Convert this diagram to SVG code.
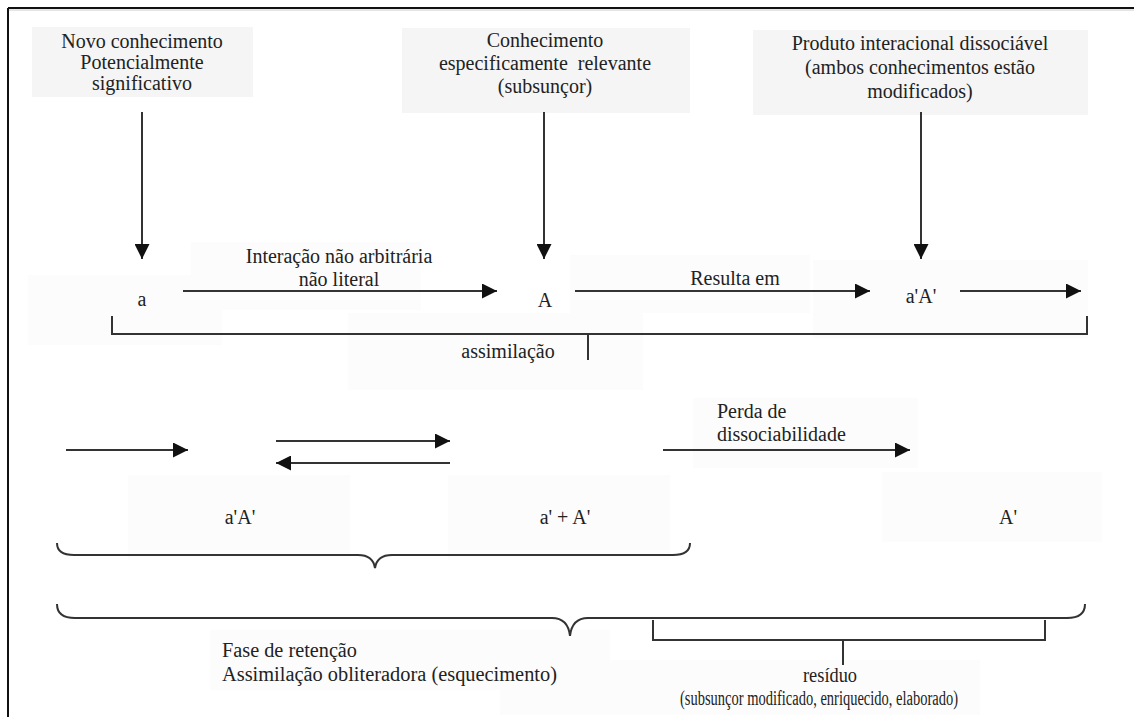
<svg xmlns="http://www.w3.org/2000/svg" width="1134" height="717" viewBox="0 0 1134 717">
<defs>
<marker id="ahv" viewBox="0 0 16 16" refX="16" refY="8" markerWidth="17" markerHeight="15" markerUnits="userSpaceOnUse" orient="auto">
<path d="M0,0 L16,8 L0,16 Z" fill="#111"/>
</marker>
</defs>
<style>
.t{font-family:"Liberation Serif","Times New Roman",serif;font-size:20px;fill:#222;}
.m{text-anchor:middle;}
.bg{fill:#f5f5f5;}
.bg2{fill:#fcfcfc;}
.ln{stroke:#333;stroke-width:2;fill:none;}
.ar{stroke:#333;stroke-width:2;fill:none;marker-end:url(#ahv);}
</style>
<rect width="1134" height="717" fill="#fff"/>
<g id="frame">
<line x1="8" y1="8" x2="1134" y2="8" stroke="#111" stroke-width="2"/>
<line x1="8" y1="8" x2="8" y2="717" stroke="#111" stroke-width="2"/>
<line x1="9" y1="10" x2="1134" y2="10" stroke="#ccc" stroke-width="1"/>
</g>
<g id="backgrounds">
<rect class="bg2" x="28" y="275" width="194" height="70"/>
<rect class="bg2" x="191" y="242" width="230" height="68"/>
<rect class="bg2" x="348" y="313" width="295" height="77"/>
<rect class="bg2" x="570" y="255" width="240" height="58"/>
<rect class="bg2" x="813" y="260" width="275" height="78"/>
<rect class="bg2" x="128" y="475" width="222" height="85"/>
<rect class="bg2" x="448" y="475" width="222" height="85"/>
<rect class="bg2" x="693" y="398" width="225" height="70"/>
<rect class="bg2" x="882" y="472" width="220" height="70"/>
<rect class="bg2" x="210" y="630" width="400" height="60"/>
<rect class="bg2" x="500" y="660" width="480" height="55"/>
</g>
<g id="n1">
<rect class="bg" x="32" y="27" width="221" height="70"/>
<text class="t m" x="142" y="48">Novo conhecimento</text>
<text class="t m" x="142" y="69">Potencialmente</text>
<text class="t m" x="142" y="90">significativo</text>
</g>
<g id="n2">
<rect class="bg" x="402" y="28" width="288" height="85"/>
<text class="t m" x="545" y="47">Conhecimento</text>
<text class="t m" x="545" y="70" xml:space="preserve">especificamente  relevante</text>
<text class="t m" x="545" y="93">(subsunçor)</text>
</g>
<g id="n3">
<rect class="bg" x="753" y="30" width="335" height="85"/>
<text class="t m" x="920" y="50">Produto interacional dissociável</text>
<text class="t m" x="920" y="74">(ambos conhecimentos estão</text>
<text class="t m" x="920" y="98">modificados)</text>
</g>
<g id="n-a"><text class="t m" x="142" y="306">a</text></g>
<g id="n-A"><text class="t m" x="545" y="307">A</text></g>
<g id="n-aA"><text class="t m" x="921" y="303">a'A'</text></g>
<g id="n-aA2"><text class="t m" x="240" y="524">a'A'</text></g>
<g id="n-apA"><text class="t m" x="565" y="524">a' + A'</text></g>
<g id="n-Ap"><text class="t m" x="1008" y="524">A'</text></g>
<g id="labels">
<text class="t m" x="339" y="263">Interação não arbitrária</text>
<text class="t m" x="339" y="286">não literal</text>
<text class="t m" x="735" y="285">Resulta em</text>
<text class="t m" x="508" y="358">assimilação</text>
<text class="t" x="717" y="418">Perda de</text>
<text class="t" x="717" y="441">dissociabilidade</text>
<text class="t" x="222" y="657" textLength="135" lengthAdjust="spacingAndGlyphs">Fase de retenção</text>
<text class="t" x="222" y="681" textLength="335" lengthAdjust="spacingAndGlyphs">Assimilação obliteradora (esquecimento)</text>
<text class="t m" x="830" y="682" textLength="54" lengthAdjust="spacingAndGlyphs">resíduo</text>
<text class="t m" x="819" y="705" textLength="278" lengthAdjust="spacingAndGlyphs">(subsunçor modificado, enriquecido, elaborado)</text>
</g>
<g id="connectors">
<line class="ar" x1="142" y1="112" x2="142" y2="259"/>
<line class="ar" x1="544" y1="112" x2="544" y2="259"/>
<line class="ar" x1="921" y1="112" x2="921" y2="259"/>
<line class="ar" x1="183" y1="291" x2="497" y2="291"/>
<line class="ar" x1="575" y1="291" x2="870" y2="291"/>
<line class="ar" x1="960" y1="291" x2="1081" y2="291"/>
<path class="ln" d="M112,316 V334 H1087 V316 M588,334 V360"/>
<line class="ar" x1="66" y1="450" x2="188" y2="450"/>
<line class="ar" x1="276" y1="441" x2="450" y2="441"/>
<line class="ar" x1="450" y1="463" x2="276" y2="463"/>
<line class="ar" x1="663" y1="450" x2="910" y2="450"/>
<path class="ln" d="M57,543 Q57,555 74,555 L358,555 Q373,555 375,568 Q377,555 392,555 L673,555 Q690,555 690,543"/>
<path class="ln" d="M57,604 Q57,618 75,618 L552,618 Q568,618 570,636 Q572,618 588,618 L1067,618 Q1085,618 1085,604"/>
<path class="ln" d="M653,620 V640 H1045 V620 M843,640 V665"/>
</g>
</svg>
